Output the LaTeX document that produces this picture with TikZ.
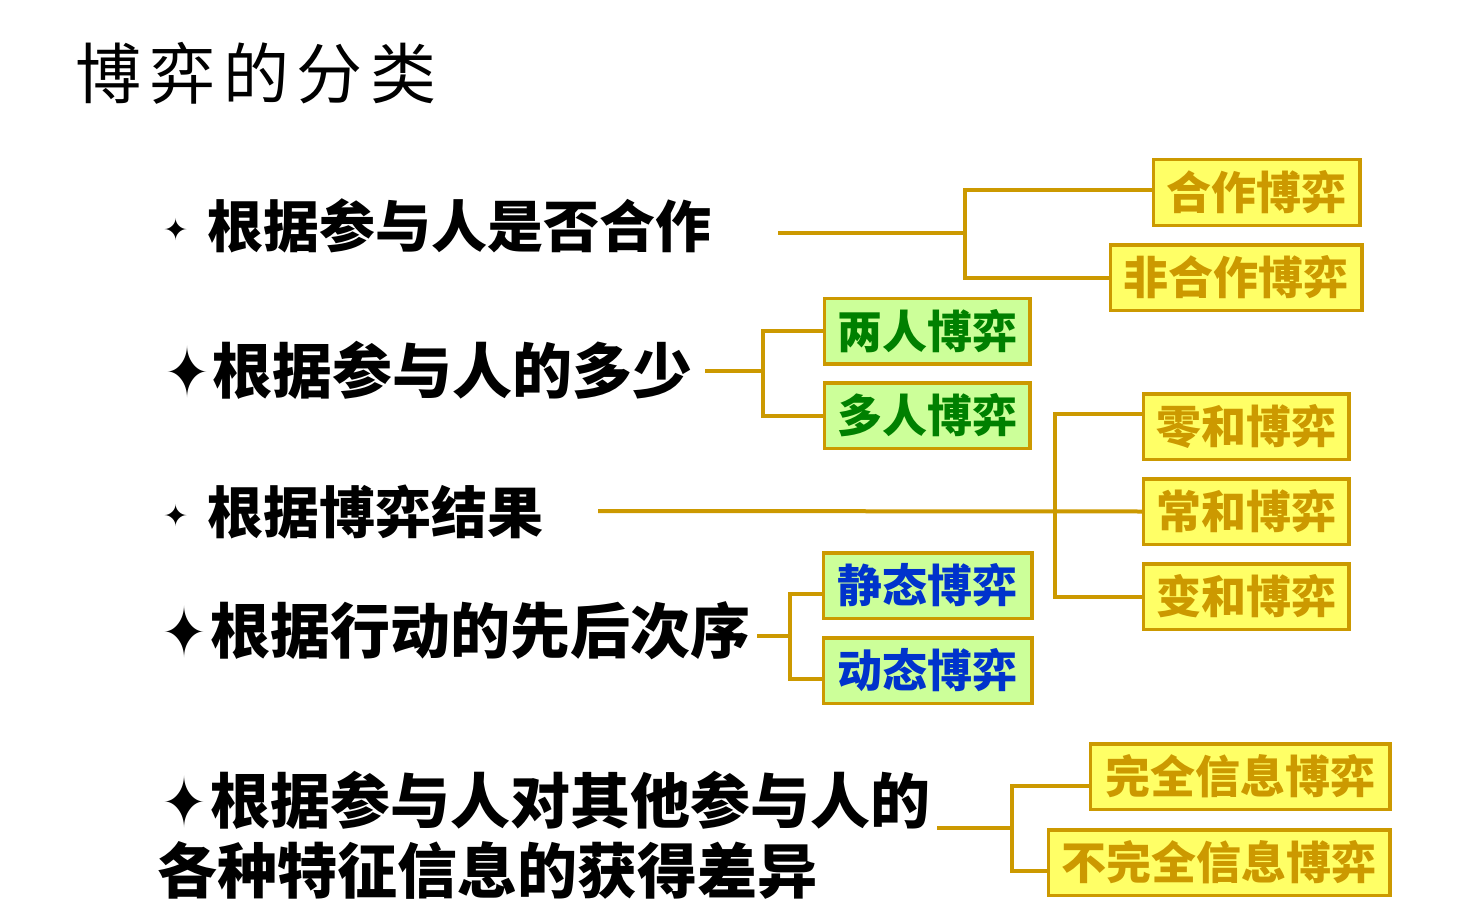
\documentclass[tikz,border=0pt]{standalone}
\usepackage{fontspec}
\usetikzlibrary{positioning}
\newfontfamily\cjk{Noto Sans CJK SC}
\newfontfamily\cjktitle{Noto Sans CJK SC}[LetterSpace=12]
\newfontfamily\symfont{DejaVu Sans}
\definecolor{gold}{HTML}{CC9900}
\definecolor{boxyellow}{HTML}{FFFF66}
\definecolor{boxgreen}{HTML}{CCFF99}
\definecolor{leafgreen}{HTML}{008000}
\definecolor{deepblue}{HTML}{0033CC}
\newcommand\starsmall{\makebox[44pt][l]{\raisebox{7pt}{\symfont\mdseries\fontsize{30}{30}\selectfont ✦}}}
\newcommand\starbig[1]{\makebox[#1][l]{\hspace{2pt}\raisebox{-4pt}{\scalebox{0.75}[1]{\symfont\mdseries\fontsize{70}{70}\selectfont ✦}}}}

\begin{document}
\begin{tikzpicture}[
  x=1pt, y=-1pt,
  every node/.style={inner sep=0pt},
  link/.style={draw=gold, line width=4pt},
  box/.style={draw=gold, line width=3.5pt, minimum height=65.5pt, inner sep=0pt, anchor=west,
    font=\cjk\bfseries\fontsize{45}{45}\selectfont},
  ybox/.style={box, fill=boxyellow, text=gold},
  gbox/.style={box, fill=boxgreen, text=leafgreen},
  bbox/.style={box, fill=boxgreen, text=deepblue},
  head/.style={anchor=west, font=\cjk\bfseries\fontsize{56}{56}\selectfont},
  headbig/.style={anchor=west, font=\cjk\bfseries\fontsize{60}{70}\selectfont}
]
\useasboundingbox (0,0) rectangle (1478,923);

% === TITLE ===
\node[anchor=west, font=\cjktitle\fontsize{66}{66}\selectfont] (title) at (75,73) {博弈的分类};

% === CRITERIA ===
\node[head] (r1) at (163,226) {\starsmall 根据参与人是否合作};
\node[headbig] (r2) at (163,370) {\starbig{49pt}根据参与人的多少};
\node[head] (r3) at (163,512) {\starsmall 根据博弈结果};
\node[headbig] (r4) at (160,631) {\starbig{50pt}根据行动的先后次序};
\node[headbig, align=left] (r5) at (157,835) {\hspace{3pt}\starbig{50pt}根据参与人对其他参与人的\\各种特征信息的获得差异};

% === KINDS ===
\node[ybox, minimum width=206.5pt] (coop)    at (1151.75,192.5) {合作博弈};
\node[ybox, minimum width=251.5pt] (noncoop) at (1108.75,277.5) {非合作博弈};

\node[gbox, minimum width=205.5pt] (two)   at (822.75,331) {两人博弈};
\node[gbox, minimum width=205.5pt] (multi) at (822.75,415.5) {多人博弈};

\node[ybox, minimum width=205.5pt] (zero)  at (1141.75,426.5) {零和博弈};
\node[ybox, minimum width=205.5pt] (const) at (1141.75,511.5) {常和博弈};
\node[ybox, minimum width=205.5pt] (var)   at (1141.75,596.5) {变和博弈};

\node[bbox, minimum width=208.5pt] (static)  at (821.75,585.5) {静态博弈};
\node[bbox, minimum width=208.5pt] (dynamic) at (821.75,670.5) {动态博弈};

\node[ybox, minimum width=299.5pt] (perfect)   at (1088.75,776.5) {完全信息博弈};
\node[ybox, minimum width=341.5pt] (imperfect) at (1046.75,862.5) {不完全信息博弈};

% === BRACKETS ===
\coordinate (r1end) at (778,233);  \coordinate (j1) at (965,233);
\coordinate (r2end) at (705,371);  \coordinate (j2) at (763,371);
\coordinate (r3end) at (598,511);  \coordinate (j3) at (1055,511);
\coordinate (r4end) at (757,636);  \coordinate (j4) at (790,636);
\coordinate (r5end) at (937,828);  \coordinate (j5) at (1012,828);

\draw[link] (r1end) -- (j1);
\draw[link] ([yshift=3pt]coop.west) -| (j1) |- (noncoop.west);

\draw[link] (r2end) -- (j2);
\draw[link] (two.west) -| (j2) |- (multi.west);

\draw[link] (r3end) -- (const.west);
\draw[link] ([yshift=13pt]zero.west) -| (j3) |- (var.west);

\draw[link] (r4end) -- (j4);
\draw[link] ([yshift=-8pt]static.west) -| (j4) |- ([yshift=-8pt]dynamic.west);

\draw[link] (r5end) -- (j5);
\draw[link] ([yshift=-9pt]perfect.west) -| (j5) |- ([yshift=-8pt]imperfect.west);

\end{tikzpicture}
\end{document}
